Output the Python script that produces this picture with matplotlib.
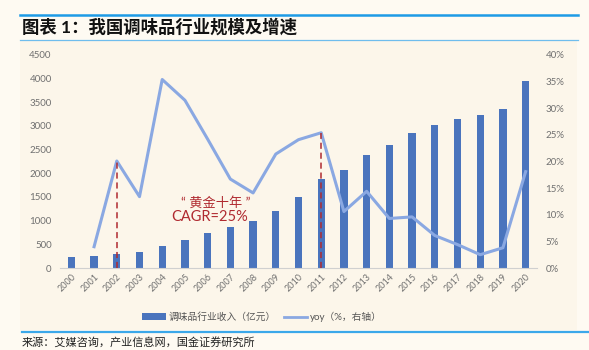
import matplotlib

matplotlib.use("Agg")

from matplotlib import pyplot as plt
from matplotlib.lines import Line2D
from matplotlib.patches import Patch, Rectangle
from matplotlib.ticker import FuncFormatter

plt.rcParams["font.family"] = ["Lato", "Noto Sans CJK SC", "DejaVu Sans"]

years = [str(y) for y in range(2000, 2021)]
revenue = [235, 250, 300, 340, 460, 600, 750, 870, 1000, 1200, 1500,
           1890, 2080, 2380, 2600, 2850, 3020, 3150, 3230, 3350, 3960]
# yoy in %, 2000 has no value
yoy = [None, 4.0, 20.1, 13.4, 35.4, 31.5, 24.2, 16.7, 14.1, 21.4, 24.1,
       25.4, 10.6, 14.4, 9.3, 9.6, 6.1, 4.4, 2.5, 3.8, 18.1]
marked_years = ["2002", "2011"]

title = "图表 1：我国调味品行业规模及增速"
source = "来源：艾媒咨询，产业信息网，国金证券研究所"
bar_label = "调味品行业收入（亿元）"
line_label = "yoy（%，右轴）"

bar_color = "#4A74BD"
line_color = "#8AA8E2"
red = "#B02A30"
tick_color = "#707070"

fig = plt.figure(figsize=(5.89, 3.5), dpi=100, facecolor="#FEFAF2")
fig.add_artist(Rectangle((20 / 589, 20 / 350), 557 / 589, 290 / 350,
                         transform=fig.transFigure, facecolor="#FCF6EA",
                         edgecolor="none", zorder=-5))

ax = fig.add_axes([60 / 589, 82 / 350, 477 / 589, 213 / 350])
ax.set_facecolor("none")
ax2 = ax.twinx()

idx = list(range(len(years)))
ax.bar(idx, revenue, width=0.32, color=bar_color, zorder=2)
ax.set_xlim(-0.5, len(years) - 0.5)
ax.set_ylim(0, 4500)
ax.set_yticks(range(0, 4501, 500))
ax.set_xticks(idx, years)

yoy_x = [i for i, v in zip(idx, yoy) if v is not None]
yoy_y = [v / 100 for v in yoy if v is not None]
ax2.plot(yoy_x, yoy_y, color=line_color, linewidth=2.2, zorder=3)
ax2.set_ylim(0, 0.40)
ax2.set_yticks([i * 0.05 for i in range(9)])
ax2.yaxis.set_major_formatter(FuncFormatter(lambda v, _: f"{v * 100:.0f}%"))

for yr in marked_years:
    i = years.index(yr)
    ax2.plot([i, i], [0, yoy[i] / 100], color=red, linewidth=1.1,
             linestyle=(0, (4, 2.5)), zorder=4)

ax.text(6.35, 1395, "“ 黄金十年 ”", color=red, fontsize=9.5, ha="center", va="center")
ax.text(6.1, 1075, "CAGR=25%", color=red, fontsize=10.5, ha="center", va="center")

for a in (ax, ax2):
    for s in a.spines.values():
        s.set_visible(False)
    a.tick_params(length=0, labelsize=7, labelcolor=tick_color)
ax.spines["bottom"].set_visible(True)
ax.spines["bottom"].set_color("#D0D0D0")
ax.tick_params(axis="y", pad=6)
ax2.tick_params(axis="y", pad=6)
ax.tick_params(axis="x", pad=3, labelsize=6.5)
for lbl in ax.get_xticklabels():
    lbl.set_rotation(45)
    lbl.set_ha("right")
    lbl.set_rotation_mode("anchor")

handles = [Patch(facecolor=bar_color, edgecolor="none"),
           Line2D([0], [0], color=line_color, linewidth=2)]
fig.legend(handles, [bar_label, line_label], loc="center",
           bbox_to_anchor=(262 / 589, 1 - 317 / 350), ncol=2, frameon=False,
           fontsize=7, handlelength=2.4, handleheight=0.8, columnspacing=0.8,
           handletextpad=0.3, labelcolor="#555555")

fig.add_artist(Line2D([20 / 589, 578 / 589], [1 - 15 / 350] * 2, color="#1E9BE6",
                      linewidth=1.8, transform=fig.transFigure))
fig.add_artist(Line2D([20 / 589, 578 / 589], [1 - 40 / 350] * 2, color="#6FBDED",
                      linewidth=0.9, transform=fig.transFigure))
fig.add_artist(Line2D([22 / 589, 588 / 589], [1 - 331.5 / 350] * 2, color="#3BA8EA",
                      linewidth=1.6, transform=fig.transFigure))

fig.text(22 / 589, 1 - 27 / 350, title, fontsize=12.5, fontweight="bold",
         va="center", ha="left", color="#111111")
fig.text(22 / 589, 1 - 342 / 350, source, fontsize=8, va="center", ha="left",
         color="#222222")

fig.savefig("out.png", dpi=100, facecolor=fig.get_facecolor())
